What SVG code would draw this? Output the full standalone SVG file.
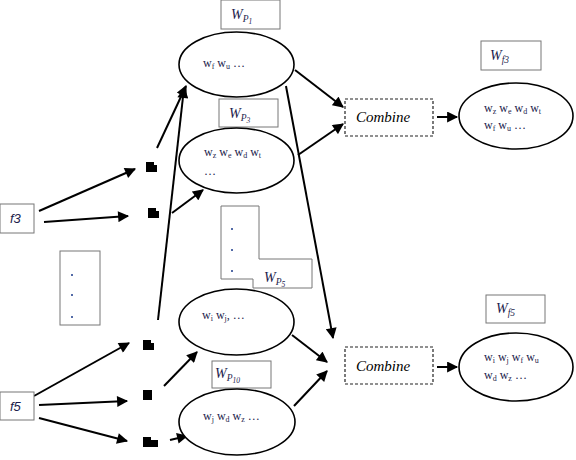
<svg xmlns="http://www.w3.org/2000/svg" width="576" height="460" viewBox="0 0 576 460">
<defs>
<marker id="ah" viewBox="0 0 10 10" refX="9" refY="5" markerWidth="12" markerHeight="11" markerUnits="userSpaceOnUse" orient="auto">
<path d="M0,0 L10,5 L0,10 Z" fill="#000"/>
</marker>
<style>
.box{fill:#fff;stroke:#777;stroke-width:1}
.ell{fill:#fff;stroke:#000;stroke-width:1.6}
.dash{fill:#fff;stroke:#222;stroke-width:1.2;stroke-dasharray:3,2}
.w{font-family:"Liberation Serif",serif;font-size:12px;fill:#1c1c4c}
.sub{font-size:8px}
.lab{font-family:"Liberation Serif",serif;font-style:italic;font-size:14px;fill:#1c1c4c}
.ls{font-size:9.5px}
.ls2{font-size:7.5px}
.comb{font-family:"Liberation Serif",serif;font-style:italic;font-size:15px;fill:#000}
.f{font-family:"Liberation Sans",sans-serif;font-style:italic;font-size:13px;fill:#1c1c4c}
.con line{stroke:#000;stroke-width:2;marker-end:url(#ah)}
.sq{fill:#000}
.dot{fill:#1a3a8a}
</style>
</defs>

<g id="connectors" class="con">
<line x1="39" y1="211" x2="135" y2="169"/>
<line x1="44" y1="222" x2="128" y2="216"/>
<line x1="34" y1="396" x2="129" y2="343"/>
<line x1="39" y1="405" x2="127" y2="401"/>
<line x1="39" y1="418" x2="127" y2="441"/>
<line x1="157" y1="148" x2="186" y2="86"/>
<line x1="158" y1="320" x2="184" y2="88"/>
<line x1="172" y1="213" x2="203" y2="190"/>
<line x1="164" y1="386" x2="197" y2="352"/>
<line x1="170" y1="440" x2="187" y2="436"/>
<line x1="286" y1="86" x2="333" y2="338"/>
<line x1="295" y1="70" x2="343" y2="107"/>
<line x1="298" y1="155" x2="343" y2="124"/>
<line x1="292" y1="335" x2="327" y2="362"/>
<line x1="294" y1="406" x2="327" y2="371"/>
<line x1="437" y1="117" x2="457" y2="117"/>
<line x1="437" y1="367" x2="457" y2="367"/>
</g>

<g id="sq1"><path class="sq" d="M146,162 h8 v3 h3 v7 h-11 Z"/></g>
<g id="sq2"><path class="sq" d="M148,208 h8 v3 h3 v7 h-11 Z"/></g>
<g id="sq3"><path class="sq" d="M143,340 h8 v3 h3 v7 h-11 Z"/></g>
<g id="sq4"><path class="sq" d="M143,390 h9 v10 h-9 Z"/></g>
<g id="sq5"><path class="sq" d="M143,437 h8 v3 h7 v7 h-15 Z"/></g>

<g id="wp1"><rect class="box" x="221" y="0" width="59" height="29"/>
<text class="lab" x="231" y="19">W<tspan class="ls" dy="3">P</tspan><tspan class="ls2" dy="2">1</tspan></text></g>
<g id="e1"><ellipse class="ell" cx="236.5" cy="64.5" rx="57.5" ry="32.5"/>
<text class="w" x="203" y="67">w<tspan class="sub" dy="2">f</tspan><tspan dy="-2"> w</tspan><tspan class="sub" dy="2">u</tspan><tspan dy="-2"> …</tspan></text></g>

<g id="wp3"><rect class="box" x="219" y="99" width="59" height="28"/>
<text class="lab" x="229" y="118">W<tspan class="ls" dy="3">P</tspan><tspan class="ls2" dy="2">3</tspan></text></g>
<g id="e2"><ellipse class="ell" cx="236.5" cy="160.5" rx="57.5" ry="32.5"/>
<text class="w" x="204" y="156">w<tspan class="sub" dy="2">z</tspan><tspan dy="-2"> w</tspan><tspan class="sub" dy="2">e</tspan><tspan dy="-2"> w</tspan><tspan class="sub" dy="2">d</tspan><tspan dy="-2"> w</tspan><tspan class="sub" dy="2">t</tspan></text>
<text class="w" x="204" y="175">…</text></g>

<g id="wp5">
<path class="box" d="M221,206 H259 V259 H312 V288 H253 V279 H221 Z"/>
<circle class="dot" cx="232" cy="229" r="1"/>
<circle class="dot" cx="232" cy="250" r="1"/>
<circle class="dot" cx="232" cy="271" r="1"/>
<text class="lab" x="264" y="282">W<tspan class="ls" dy="3">P</tspan><tspan class="ls2" dy="2">5</tspan></text></g>

<g id="e3"><ellipse class="ell" cx="236.5" cy="322" rx="57.5" ry="33"/>
<text class="w" x="202" y="319">w<tspan class="sub" dy="2">i</tspan><tspan dy="-2"> w</tspan><tspan class="sub" dy="2">j</tspan><tspan dy="-2">, …</tspan></text></g>

<g id="wp10"><rect class="box" x="212" y="361" width="59" height="27"/>
<text class="lab" x="215" y="378">W<tspan class="ls" dy="3">P</tspan><tspan class="ls2" dy="2">10</tspan></text></g>
<g id="e4"><ellipse class="ell" cx="237" cy="422" rx="58" ry="33"/>
<text class="w" x="203" y="420">w<tspan class="sub" dy="2">j</tspan><tspan dy="-2"> w</tspan><tspan class="sub" dy="2">d</tspan><tspan dy="-2"> w</tspan><tspan class="sub" dy="2">z</tspan><tspan dy="-2"> …</tspan></text></g>

<g id="combine1"><rect class="dash" x="345" y="99" width="88" height="37"/>
<text class="comb" x="356" y="122">Combine</text></g>
<g id="combine2"><rect class="dash" x="345" y="347" width="88" height="37"/>
<text class="comb" x="356" y="371">Combine</text></g>

<g id="wf3"><rect class="box" x="481" y="41" width="60" height="29"/>
<text class="lab" x="490" y="60">W<tspan class="ls" dy="3">f3</tspan></text></g>
<g id="e5"><ellipse class="ell" cx="516" cy="116" rx="57" ry="33"/>
<text class="w" x="484" y="112">w<tspan class="sub" dy="2">z</tspan><tspan dy="-2"> w</tspan><tspan class="sub" dy="2">e</tspan><tspan dy="-2"> w</tspan><tspan class="sub" dy="2">d</tspan><tspan dy="-2"> w</tspan><tspan class="sub" dy="2">t</tspan></text>
<text class="w" x="484" y="129">w<tspan class="sub" dy="2">f</tspan><tspan dy="-2"> w</tspan><tspan class="sub" dy="2">u</tspan><tspan dy="-2"> …</tspan></text></g>

<g id="wf5"><rect class="box" x="486" y="295" width="59" height="28"/>
<text class="lab" x="496" y="313">W<tspan class="ls" dy="3">f5</tspan></text></g>
<g id="e6"><ellipse class="ell" cx="516" cy="367" rx="57" ry="34"/>
<text class="w" x="484" y="361">w<tspan class="sub" dy="2">i</tspan><tspan dy="-2"> w</tspan><tspan class="sub" dy="2">j</tspan><tspan dy="-2"> w</tspan><tspan class="sub" dy="2">f</tspan><tspan dy="-2"> w</tspan><tspan class="sub" dy="2">u</tspan></text>
<text class="w" x="484" y="379">w<tspan class="sub" dy="2">d</tspan><tspan dy="-2"> w</tspan><tspan class="sub" dy="2">z</tspan><tspan dy="-2"> …</tspan></text></g>

<g id="f3"><rect class="box" x="0" y="204" width="34" height="29"/>
<text class="f" x="10" y="223">f3</text></g>
<g id="f5"><rect class="box" x="0" y="392" width="34" height="28"/>
<text class="f" x="10" y="411">f5</text></g>

<g id="dots"><rect class="box" x="60" y="251" width="40" height="74"/>
<circle class="dot" cx="72" cy="275" r="1"/>
<circle class="dot" cx="72" cy="295" r="1"/>
<circle class="dot" cx="72" cy="317" r="1"/></g>
</svg>
